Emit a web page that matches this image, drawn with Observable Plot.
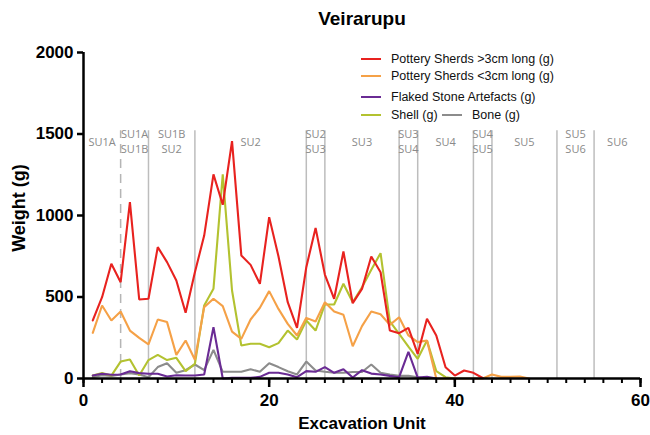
<!DOCTYPE html>
<html>
<head>
<meta charset="utf-8">
<script src="https://cdn.jsdelivr.net/npm/d3@7"></script>
<script src="https://cdn.jsdelivr.net/npm/@observablehq/plot@0.6"></script>
<style>
  body { margin: 0; background: #fff; }
  #wrap { position: relative; width: 650px; height: 435px; font-family: "Liberation Sans", Arial, sans-serif; }
  #wrap svg { position: absolute; left: 0; top: 0; }
  .abs { position: absolute; white-space: nowrap; line-height: 1; }
  .title { font-weight: bold; font-size: 19px; color: #000; transform: translate(-50%, -50%); }
  .axlab { font-weight: bold; color: #000; }
  .leg { font-size: 12.5px; color: #111; transform: translateY(-50%); }
  .sw { position: absolute; height: 0; border-top: 2px solid; width: 20px; }
</style>
</head>
<body>
<div id="wrap"></div>
<script>
// Excavation units
const units = [1,2,3,4,5,6,7,8,9,10,11,12,13,14,15,16,17,18,19,20,21,22,23,24,25,26,27,28,29,30,31,32,33,34,35,36,37,38,39,40,41,42,43,44,45,46,47,48];

// Series values (g), one value per unit starting at unit 1
const potteryLarge = [356,499,704,591,1082,485,489,806,714,601, 403,652,877,1252,1066,1456,755,697,581,990, 750,468,311,683,924,638,489,779,462,550, 748,652,294,278,311,151,366,264,69,18, 49,35,3];
const potterySmall = [280,448,356,411,294,249,209,362,346,145, 233,115,438,489,444,288,243,362,434,536, 427,335,264,372,350,468,411,391,198,321, 411,394,329,376,264,223,233,0,0,0, 0,0,0,25,10,10,12,0];
const flakedStone = [18,29,23,25,45,33,29,29,12,20, 18,18,25,315,0,4,4,4,10,35, 35,25,8,45,41,70,35,57,6,51, 30,25,16,8,164,6,10,0];
const shell = [18,33,18,104,117,18,113,145,113,127, 45,90,448,550,1252,540,202,213,213,192, 217,294,239,356,294,454,454,581,468,560, 667,769,350,274,196,121,233,45,8,0];
const bone = [8,20,15,25,33,25,8,70,94,35, 51,86,51,176,41,41,41,57,41,94, 70,45,25,104,49,41,35,35,40,40, 86,35,25,16,16,8,0];

// Stratigraphic unit boundaries and labels
const boundaries = [7,12,24,26,34,36,42,44,51,55];
const dashedBoundaries = [4];
const suEdges = [0,4,7,12,24,26,34,36,42,44,51,55,60];
const suTop = ["SU1A","SU1A","SU1B","SU2","SU2","SU3","SU3","SU4","SU4","SU5","SU5","SU6"];
const suBottom = [null,"SU1B","SU2",null,"SU3",null,"SU4",null,"SU5",null,"SU6",null];
const boundaryTop = 1520;
const labelLevelSingle = 1450;
const labelLevelTop = 1497;
const labelLevelBottom = 1406;

const yTicks = [0,500,1000,1500,2000];
const xTicks = [0,20,40,60];
const xMinorTicks = [0,2,4,6,8,10,12,14,16,18,20,22,24,26,28,30,32,34,36,38,40,42,44,46,48,50,52,54,56,58,60];

const seriesNames = ["Pottery Sherds >3cm long (g)","Pottery Sherds <3cm long (g)","Flaked Stone Artefacts (g)","Shell (g)","Bone (g)"];
const seriesColors = ["#e8221f","#f5a147","#6a2b94","#b3c230","#8c8c8c"];
const seriesValues = [potteryLarge, potterySmall, flakedStone, shell, bone];

const toRows = (vals) => vals.map((v, i) => ({unit: units[i], value: v}));
const labelRows = suTop.map((t, i) => ({
  x: (suEdges[i] + suEdges[i + 1]) / 2,
  top: t,
  bottom: suBottom[i],
  yTop: suBottom[i] ? labelLevelTop : labelLevelSingle
}));
const bottomRows = labelRows.filter(d => d.bottom);

const drawOrder = [4, 3, 1, 2, 0];
const lineMarks = drawOrder.map(k => Plot.line(toRows(seriesValues[k]), {x: "unit", y: "value", stroke: seriesColors[k], strokeWidth: 2.1, strokeLinejoin: "miter"}));

const tickFont = {fontFamily: "Liberation Sans, Arial, sans-serif", fontWeight: "bold", fontSize: 17, fill: "#000"};
const suFont = {fill: "#8a8a8a", fontSize: 11, fontFamily: "Open Sans, sans-serif"};

const chart = Plot.plot({
  width: 650, height: 435,
  marginLeft: 83, marginRight: 10, marginTop: 52, marginBottom: 57,
  x: {domain: [0, 60]},
  y: {domain: [0, 2000]},
  marks: [
    Plot.ruleX(boundaries, {x: d => d, y1: 0, y2: boundaryTop, stroke: "#bdbdbd", strokeWidth: 1.5}),
    Plot.ruleX(dashedBoundaries, {x: d => d, y1: 0, y2: boundaryTop, stroke: "#b5b5b5", strokeWidth: 1.5, strokeDasharray: "9,6"}),
    Plot.text(labelRows, {x: "x", y: "yTop", text: "top", ...suFont}),
    Plot.text(bottomRows, {x: "x", y: () => labelLevelBottom, text: "bottom", ...suFont}),
    ...lineMarks,
    Plot.ruleY([0], {stroke: "#000", strokeWidth: 2.5}),
    Plot.ruleX([0], {stroke: "#000", strokeWidth: 2.5}),
    Plot.axisY({ticks: yTicks, tickFormat: "d", tickSize: 6, tickPadding: 4, strokeWidth: 2.5, label: null, ...tickFont}),
    Plot.axisX({ticks: xMinorTicks, tickSize: 5, text: null, strokeWidth: 2, label: null}),
    Plot.axisX({ticks: xTicks, tickFormat: "d", tickSize: 9, tickPadding: 6, strokeWidth: 2.5, label: null, ...tickFont})
  ]
});

const wrap = document.getElementById("wrap");
wrap.appendChild(chart);

function addDiv(cls, text, style) {
  const d = document.createElement("div");
  d.className = "abs " + cls;
  d.textContent = text;
  Object.assign(d.style, style);
  wrap.appendChild(d);
  return d;
}

addDiv("title", "Veirarupu", {left: "362px", top: "18px"});
addDiv("axlab", "Excavation Unit", {left: "362px", top: "423px", fontSize: "17px", transform: "translate(-50%,-50%)"});
addDiv("axlab", "Weight (g)", {left: "19px", top: "208px", fontSize: "18px", transform: "translate(-50%,-50%) rotate(-90deg)"});

// Legend
const legendRows = [
  {k: 0, x: 361, y: 59},
  {k: 1, x: 361, y: 76},
  {k: 2, x: 361, y: 97},
  {k: 3, x: 361, y: 115},
  {k: 4, x: 442, y: 115}
];
legendRows.forEach(r => {
  const sw = document.createElement("div");
  sw.className = "sw";
  sw.style.left = r.x + "px";
  sw.style.top = (r.y - 1) + "px";
  sw.style.borderTopColor = seriesColors[r.k];
  wrap.appendChild(sw);
  addDiv("leg", seriesNames[r.k], {left: (r.x + 30) + "px", top: r.y + "px"});
});
</script>
</body>
</html>
